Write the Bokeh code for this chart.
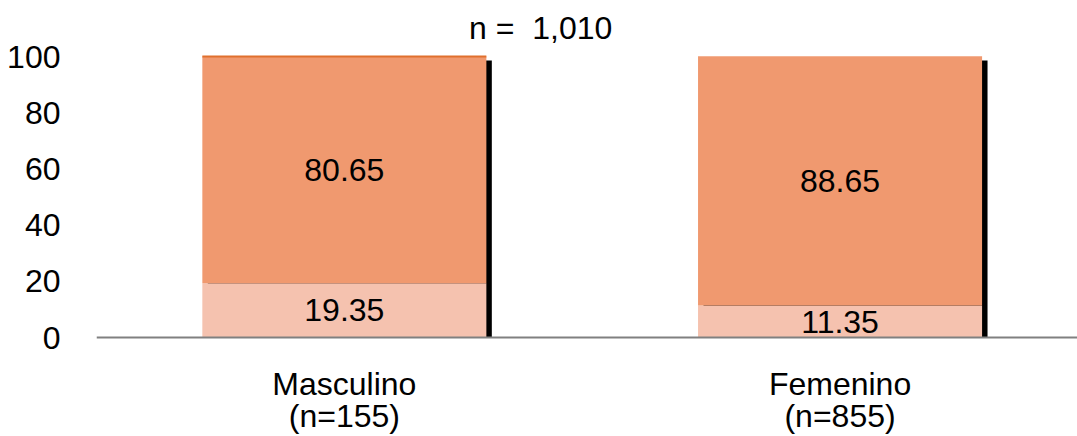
from bokeh.plotting import figure
from bokeh.models import Range1d, FixedTicker
from bokeh.embed import file_html
from bokeh.resources import INLINE
from bokeh.core.properties import value

categories = ["Masculino", "Femenino"]
counts = ["(n=155)", "(n=855)"]
seg_low = [19.35, 11.35]
seg_high = [80.65, 88.65]
total_n = "n =\u00a0 1,010"
y_ticks = [0, 20, 40, 60, 80, 100]

FONT = "Liberation Sans"
C_HIGH = "#F0996F"
C_LOW = "#F5C2AF"

xs = [i + 0.5 for i in range(len(categories))]
tops = [a + b for a, b in zip(seg_low, seg_high)]
W = 0.573
XMAX = 1.979

p = figure(width=1077, height=436, output_backend="svg", toolbar_location=None,
           x_range=Range1d(0, XMAX), y_range=Range1d(-35.23, 119.93),
           x_axis_location=None,
           min_border_left=96, min_border_right=0, min_border_top=0, min_border_bottom=0)
p.outline_line_color = None
p.grid.grid_line_color = None
p.background_fill_color = "white"

# shadows
sh_x = [x + 0.011 for x in xs]
p.vbar(x=sh_x, width=W, bottom=0, top=[t - 1.4 for t in tops], fill_color="black", line_color=None)

p.vbar(x=xs, width=W, bottom=0, top=seg_low, fill_color=C_LOW, line_color=None)
p.vbar(x=xs, width=W, bottom=seg_low, top=tops, fill_color=C_HIGH, line_color=None)
# top edges
p.segment(x0=[xs[0] - W / 2], x1=[xs[0] + W / 2], y0=[tops[0]], y1=[tops[0]], line_color="#E0702E", line_width=2)
p.segment(x0=[xs[1] - W / 2], x1=[xs[1] + W / 2], y0=[tops[1]], y1=[tops[1]], line_color="#F4B394", line_width=1)

# baseline
p.segment(x0=[0], x1=[XMAX], y0=[0], y1=[0], line_color="#808080", line_width=2)

lab_low = [f"{v:.2f}" for v in seg_low]
lab_high = [f"{v:.2f}" for v in seg_high]
common = dict(text_align="center", text_baseline="middle", text_font=value(FONT),
              text_font_size="32px", text_color="black")
p.text(x=xs, y=[v / 2 for v in seg_low], text=lab_low, **common)
p.text(x=xs, y=[l + h / 2 for l, h in zip(seg_low, seg_high)], text=lab_high, **common)

# category labels
p.text(x=xs, y=[-16.4] * len(xs), text=categories, **common)
p.text(x=xs, y=[-28.1] * len(xs), text=counts, **common)

# total n
p.text(x=[0.896], y=[110.0], text=[total_n], **common)

p.yaxis.ticker = FixedTicker(ticks=y_ticks)
p.yaxis.axis_line_color = None
p.yaxis.major_tick_line_color = None
p.yaxis.minor_tick_line_color = None
p.yaxis.major_label_text_font = FONT
p.yaxis.major_label_text_font_size = "32px"
p.yaxis.major_label_text_color = "black"
p.yaxis.major_label_standoff = 30

open("out.html", "w").write(file_html(p, INLINE))
